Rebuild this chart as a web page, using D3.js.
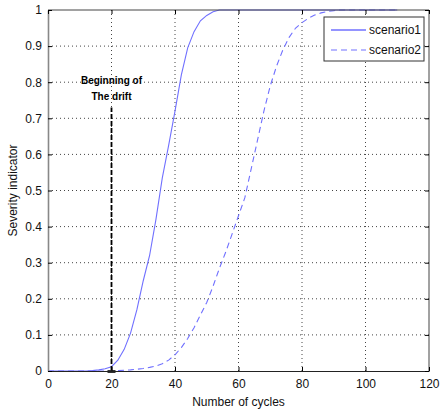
<!DOCTYPE html>
<html>
<head>
<meta charset="utf-8">
<script src="https://cdn.jsdelivr.net/npm/d3@7"></script>
<style>
  body { margin: 0; background: #fff; }
  text { font-family: Arial, "Liberation Sans", sans-serif; }
</style>
</head>
<body>
<div id="chart"></div>
<script>
// --- data ---
const cycles = d3.range(0, 112, 2);
const scenario1 = [0, 0, 0, 0, 0, 0, 0, 0.001, 0.003, 0.006, 0.012, 0.03, 0.06, 0.105, 0.17, 0.25,
  0.32, 0.42, 0.535, 0.625, 0.72, 0.82, 0.895, 0.94, 0.97, 0.985, 0.995, 1, 1, 1,
  1, 1, 1, 1, 1, 1, 1, 1, 1, 1, 1, 1, 1, 1, 1, 1, 1, 1, 1, 1, 1, 1, 1, 1, 1, 1];
const scenario2 = [0, 0, 0, 0, 0, 0, 0, 0, 0, 0, 0, 0.001, 0.002, 0.003, 0.005, 0.007, 0.01, 0.014,
  0.02, 0.03, 0.045, 0.065, 0.09, 0.12, 0.155, 0.19, 0.235, 0.285, 0.33, 0.38, 0.43, 0.48,
  0.56, 0.64, 0.72, 0.79, 0.845, 0.89, 0.925, 0.95, 0.965, 0.977, 0.986, 0.992, 0.996, 0.998,
  1, 1, 1, 1, 1, 1, 1, 1, 1, 1];
const seriesNames = ["scenario1", "scenario2"];
const xTicks = [0, 20, 40, 60, 80, 100, 120];
const yTicks = [0, 0.1, 0.2, 0.3, 0.4, 0.5, 0.6, 0.7, 0.8, 0.9, 1];
const driftAt = 20;
const driftTop = 0.73;

const margin = { top: 10, right: 18, bottom: 42, left: 48 };
const W = 447, H = 413;
const width = W - margin.left - margin.right;
const height = H - margin.top - margin.bottom;

const svg = d3.select("#chart").append("svg")
  .attr("width", W).attr("height", H);
const g = svg.append("g")
  .attr("transform", `translate(${margin.left},${margin.top})`);

const x = d3.scaleLinear().domain([0, 120]).range([0, width]);
const y = d3.scaleLinear().domain([0, 1]).range([height, 0]);

// grid
g.append("g").selectAll("line")
  .data(xTicks.slice(1, -1))
  .join("line")
  .attr("x1", d => x(d)).attr("x2", d => x(d))
  .attr("y1", 0).attr("y2", height)
  .attr("stroke", "#444").attr("stroke-dasharray", "1,3");
g.append("g").selectAll("line")
  .data(yTicks.slice(1, -1))
  .join("line")
  .attr("y1", d => y(d)).attr("y2", d => y(d))
  .attr("x1", 0).attr("x2", width)
  .attr("stroke", "#444").attr("stroke-dasharray", "1,3");

// curves
const color = "#7070ff";
const line = d3.line().x((d, i) => x(cycles[i])).y(d => y(d));
g.append("path").datum(scenario1)
  .attr("d", line).attr("fill", "none")
  .attr("stroke", color).attr("stroke-width", 1.1);
g.append("path").datum(scenario2)
  .attr("d", line).attr("fill", "none")
  .attr("stroke", color).attr("stroke-width", 1.1)
  .attr("stroke-dasharray", "6,4");

// drift marker
g.append("line")
  .attr("x1", x(driftAt)).attr("x2", x(driftAt))
  .attr("y1", y(0)).attr("y2", y(driftTop))
  .attr("stroke", "#000").attr("stroke-width", 1.8)
  .attr("stroke-dasharray", "5,2");
g.append("rect")
  .attr("x", x(driftAt) - 4).attr("y", y(0) - 1)
  .attr("width", 8).attr("height", 3)
  .attr("fill", "#333");
const ann = g.append("text")
  .attr("text-anchor", "middle")
  .attr("font-family", "'Liberation Sans Narrow', 'DejaVu Sans Condensed', sans-serif")
  .attr("font-weight", "bold")
  .attr("font-size", "10px")
  .attr("fill", "#000");
ann.append("tspan").attr("x", x(driftAt)).attr("y", y(0.795)).text("Beginning of");
ann.append("tspan").attr("x", x(driftAt)).attr("y", y(0.75)).text("The drift");

// frame
g.append("line").attr("x1", 0).attr("x2", width).attr("y1", 0).attr("y2", 0)
  .attr("stroke", "#444");
g.append("line").attr("x1", width).attr("x2", width).attr("y1", 0).attr("y2", height)
  .attr("stroke", "#444");

// axes (ticks inward, MATLAB style)
const xAxis = g.append("g")
  .attr("transform", `translate(0,${height})`)
  .call(d3.axisBottom(x).tickValues(xTicks).tickSizeInner(-4).tickSizeOuter(0).tickPadding(8));
const yAxis = g.append("g")
  .call(d3.axisLeft(y).tickValues(yTicks).tickSizeInner(-4).tickSizeOuter(0).tickPadding(6)
    .tickFormat(d3.format("")));
g.append("g")
  .attr("transform", `translate(${width},0)`)
  .call(d3.axisRight(y).tickValues(yTicks).tickSizeInner(-4).tickSizeOuter(0).tickFormat(""))
  .select(".domain").remove();
g.append("g")
  .call(d3.axisTop(x).tickValues(xTicks).tickSizeInner(-4).tickSizeOuter(0).tickFormat(""))
  .select(".domain").remove();

xAxis.select(".domain").attr("stroke", "#222");
yAxis.select(".domain").attr("stroke", "#888").attr("stroke-width", 1.6);
[xAxis, yAxis].forEach(a => a.selectAll("text")
  .attr("font-size", "12px").attr("fill", "#111")
  .attr("font-family", "Arial, 'Liberation Sans', sans-serif"));

// axis titles
g.append("text")
  .attr("x", width / 2).attr("y", height + 35)
  .attr("text-anchor", "middle")
  .attr("font-size", "12px").attr("fill", "#111")
  .text("Number of cycles");
g.append("text")
  .attr("transform", "rotate(-90)")
  .attr("x", -height / 2).attr("y", -31)
  .attr("text-anchor", "middle")
  .attr("font-size", "12px").attr("fill", "#111")
  .text("Severity indicator");

// legend
const legend = svg.append("g").attr("transform", "translate(324,17)");
legend.append("rect")
  .attr("width", 100).attr("height", 44)
  .attr("fill", "#fff").attr("stroke", "#333");
seriesNames.forEach((s, i) => {
  legend.append("line")
    .attr("x1", 7).attr("x2", 42)
    .attr("y1", 13 + i * 20).attr("y2", 13 + i * 20)
    .attr("stroke", color).attr("stroke-width", i === 0 ? 1.5 : 1.1)
    .attr("stroke-dasharray", i === 0 ? null : "6,4");
  legend.append("text")
    .attr("x", 45).attr("y", 17 + i * 20)
    .attr("font-size", "12px").attr("fill", "#111")
    .text(s);
});
</script>
</body>
</html>
